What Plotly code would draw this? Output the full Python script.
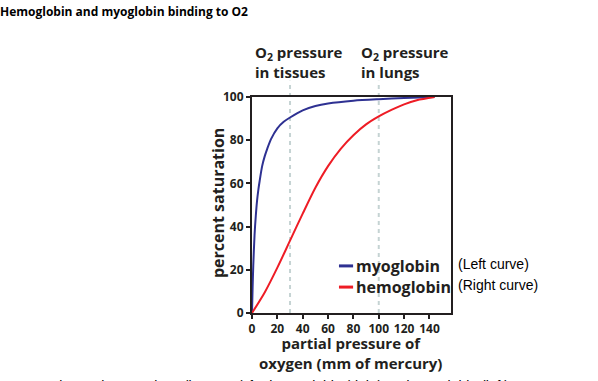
import plotly.graph_objects as go

# ---- data ----
myo_x = [0, 0.5, 1, 2, 3, 4, 5, 6, 8, 10, 12, 15, 20, 25, 30, 40, 50, 60, 80, 100, 120, 144]
myo_y = [0, 12, 22, 36, 45, 52, 57, 61, 68, 72.5, 76, 80.5, 85.5, 88.5, 90.5, 93.8, 95.8, 97, 98.3, 99, 99.5, 100]

hb_x = [0, 10, 20, 30, 40, 50, 60, 70, 80, 90, 100, 110, 120, 130, 144]
hb_y = [0, 9.5, 21, 33.5, 46, 58, 68, 76, 82.3, 87.3, 91, 94, 96.6, 98.5, 100]

x_ticks = [0, 20, 40, 60, 80, 100, 120, 140]
y_ticks = [0, 20, 40, 60, 80, 100]
reference_pressures = [30, 100]  # tissues, lungs

BLUE = "#2e3192"
RED = "#ee1c25"
INK = "#231f20"
FONT = "Open Sans"

fig = go.Figure()
fig.add_trace(go.Scatter(x=myo_x, y=myo_y, mode="lines", name="myoglobin",
                         line=dict(color=BLUE, width=2, shape="spline", smoothing=0.8),
                         showlegend=False))
fig.add_trace(go.Scatter(x=hb_x, y=hb_y, mode="lines", name="hemoglobin",
                         line=dict(color=RED, width=2, shape="spline", smoothing=0.8),
                         showlegend=False))

for xp in reference_pressures:
    fig.add_shape(type="line", xref="x", yref="paper", x0=xp, x1=xp, y0=0, y1=1.075,
                  line=dict(color="#c5d3d3", width=2, dash="4px,4px"), layer="below")

# legend drawn by hand (short sample lines)
fig.add_shape(type="line", xref="paper", yref="paper", x0=0.437, x1=0.508, y0=0.218, y1=0.218,
              line=dict(color=BLUE, width=3))
fig.add_shape(type="line", xref="paper", yref="paper", x0=0.437, x1=0.508, y0=0.12, y1=0.12,
              line=dict(color=RED, width=3))

bold = dict(family=FONT, size=15, color=INK, weight="bold")
leg = dict(family=FONT, size=16, color=INK, weight="bold")
note = dict(family="Liberation Sans", size=14, color="#000")
ann = [
    dict(text="Hemoglobin and myoglobin binding to O2", x=-1.276, y=1.394, xanchor="left",
         yanchor="middle", font=dict(family=FONT, size=12, color="#000", weight="bold")),
    dict(text="myoglobin", x=0.515, y=0.218, xanchor="left", yanchor="middle", font=leg),
    dict(text="hemoglobin", x=0.515, y=0.12, xanchor="left", yanchor="middle", font=leg),
    dict(text="(Left curve)", x=1.025, y=0.227, xanchor="left", yanchor="middle", font=note),
    dict(text="(Right curve)", x=1.025, y=0.13, xanchor="left", yanchor="middle", font=note),
    dict(text="O<sub>2</sub> pressure<br>in tissues", x=0.005, y=1.162, xanchor="left",
         yanchor="middle", align="left", font=bold),
    dict(text="O<sub>2</sub> pressure<br>in lungs", x=0.54, y=1.162, xanchor="left",
         yanchor="middle", align="left", font=bold),
    dict(text="percent saturation", x=-0.171, y=0.509, textangle=-90, xanchor="center",
         yanchor="middle", font=dict(family=FONT, size=16, color=INK, weight="bold")),
    dict(text="partial pressure of<br>oxygen (mm of mercury)", x=0.497, y=-0.183,
         xanchor="center", yanchor="middle", align="center", font=bold),
    dict(text="1.      Estimate the K<sub>d</sub> values (lower K<sub>d</sub>) for hemoglobin (right) and myoglobin (left)",
         x=-1.255, y=-0.292, xanchor="left", yanchor="top", font=note),
]
for a in ann:
    a.update(xref="paper", yref="paper", showarrow=False)
fig.update_layout(annotations=ann)

axis_common = dict(showline=True, linecolor=INK, linewidth=2, mirror=True, showgrid=False,
                   zeroline=False, ticks="outside", ticklen=4, tickwidth=1.5, tickcolor=INK,
                   tickfont=dict(family=FONT, size=12, color=INK, weight="bold"))
fig.update_xaxes(range=[0, 157], tickvals=x_ticks, ticktext=[str(v) for v in x_ticks], **axis_common)
fig.update_yaxes(range=[0, 100], tickvals=y_ticks, ticktext=[str(v) for v in y_ticks], **axis_common)

fig.update_layout(
    width=598, height=381,
    margin=dict(l=252, r=147, t=97, b=68),
    paper_bgcolor="white", plot_bgcolor="white",
)

fig.write_html("out.html", config={"displayModeBar": False},
               post_script="document.body.style.margin='0';document.body.style.overflow='hidden';")
